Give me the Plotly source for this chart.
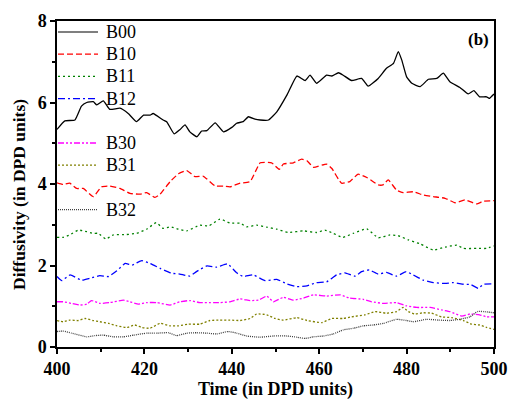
import plotly.graph_objects as go

# Diffusivity time series for each system (time in DPD units)
t_b00 = [400, 401.8, 404.1, 405.6, 406.8, 408.3, 409.1, 410.6, 412.1, 414.4, 416.3, 418.2, 419.8, 421.3,
         422.0, 424.3, 425.1, 426.8, 428.1, 429.3, 430.4, 432.0, 433.1, 434.3, 436.2, 438.1, 440.0, 441.1,
         442.6, 443.8, 445.3, 446.5, 448.4, 450.3, 452.6, 454.9, 456.8, 457.9, 459.4, 461.7, 462.9, 464.4,
         465.5, 467.4, 469.7, 471.2, 473.5, 475.4, 477.0, 478.1, 478.9, 480.0, 481.2, 483.1, 485.0, 486.9,
         488.4, 489.9, 492.2, 494.1, 495.4, 496.7, 498.3, 498.9, 500]
d_b00 = [5.34, 5.55, 5.57, 5.91, 6.00, 6.02, 5.94, 6.04, 5.83, 5.86, 5.73, 5.53, 5.69, 5.69,
         5.73, 5.57, 5.53, 5.23, 5.33, 5.45, 5.28, 5.16, 5.30, 5.31, 5.50, 5.28, 5.39, 5.49,
         5.53, 5.65, 5.59, 5.57, 5.57, 5.77, 6.18, 6.65, 6.54, 6.67, 6.47, 6.67, 6.65, 6.73,
         6.67, 6.54, 6.59, 6.40, 6.59, 6.84, 6.96, 7.25, 7.04, 6.63, 6.47, 6.39, 6.57, 6.59,
         6.72, 6.51, 6.37, 6.21, 6.29, 6.14, 6.14, 6.10, 6.21]

t_b10 = [400, 401.4, 402.9, 404.5, 406.0, 408.3, 410.2, 412.1, 414.4, 416.7, 419.0, 420.5, 422.4, 423.6,
         425.9, 427.8, 429.7, 431.6, 433.5, 436.2, 438.1, 439.6, 441.9, 444.2, 446.5, 449.1, 450.9, 451.8,
         454.1, 456.0, 457.2, 458.7, 461.7, 462.9, 465.1, 467.0, 468.9, 470.9, 473.5, 474.6, 475.8, 477.7,
         479.2, 481.5, 483.8, 486.1, 488.8, 491.1, 493.4, 496.0, 497.6, 500]
d_b10 = [4.03, 3.99, 4.02, 3.89, 3.89, 3.69, 3.93, 3.95, 3.89, 3.77, 3.75, 3.79, 3.67, 3.75,
         4.06, 4.25, 4.33, 4.18, 4.19, 3.95, 3.95, 3.93, 4.02, 4.06, 4.52, 4.52, 4.36, 4.49,
         4.52, 4.61, 4.57, 4.41, 4.49, 4.38, 4.02, 4.06, 4.24, 4.16, 3.98, 3.98, 4.10, 3.85,
         3.79, 3.81, 3.73, 3.69, 3.65, 3.54, 3.61, 3.51, 3.58, 3.59]

t_b11 = [400, 401.4, 402.9, 404.9, 406.8, 408.3, 409.4, 411.2, 412.9, 415.9, 418.2, 420.5, 422.7, 424.3,
         425.9, 427.8, 429.7, 432.7, 434.7, 437.3, 439.6, 441.9, 443.4, 445.7, 448.0, 450.3, 452.9, 456.4,
         459.4, 461.3, 463.2, 465.4, 467.8, 470.9, 473.5, 476.2, 478.1, 480.4, 483.1, 486.1, 488.8, 491.5,
         493.0, 496.0, 498.3, 500]
d_b11 = [2.69, 2.69, 2.75, 2.87, 2.83, 2.79, 2.79, 2.65, 2.75, 2.76, 2.79, 2.89, 3.05, 2.91,
         2.95, 2.89, 2.85, 2.99, 2.97, 3.14, 3.04, 3.04, 2.95, 2.99, 2.94, 2.89, 2.81, 2.85,
         2.81, 2.87, 2.79, 2.69, 2.79, 2.90, 2.68, 2.75, 2.73, 2.63, 2.53, 2.38, 2.45, 2.50,
         2.42, 2.42, 2.42, 2.48]

t_b12 = [400, 401.1, 403.0, 405.6, 407.6, 409.8, 411.8, 413.7, 415.6, 417.2, 419.4, 421.3, 423.6, 426.2,
         428.1, 430.4, 431.9, 434.3, 436.5, 439.0, 441.1, 442.6, 444.9, 447.6, 450.3, 452.6, 454.9, 457.2,
         459.4, 461.7, 464.0, 465.9, 468.2, 469.7, 471.5, 473.5, 475.4, 477.7, 479.9, 481.5, 483.8, 486.1,
         488.8, 490.7, 493.0, 494.7, 496.4, 497.6, 500]
d_b12 = [1.73, 1.63, 1.77, 1.64, 1.69, 1.75, 1.73, 1.87, 2.05, 2.01, 2.12, 2.05, 1.93, 1.81,
         1.79, 1.74, 1.85, 1.99, 1.96, 2.04, 1.82, 1.73, 1.77, 1.63, 1.66, 1.55, 1.48, 1.50,
         1.58, 1.60, 1.77, 1.82, 1.74, 1.85, 1.89, 1.79, 1.83, 1.74, 1.85, 1.77, 1.64, 1.58,
         1.56, 1.58, 1.54, 1.53, 1.44, 1.54, 1.55]

t_b30 = [400, 401.4, 403.3, 405.3, 406.8, 407.9, 409.8, 412.1, 415.2, 416.7, 418.6, 420.5, 422.8, 425.9,
         428.1, 430.4, 432.7, 435.8, 437.3, 439.6, 441.9, 444.2, 446.1, 448.0, 449.5, 451.8, 454.1, 456.4,
         458.7, 461.7, 464.8, 467.0, 470.1, 472.0, 474.7, 477.7, 480.0, 482.3, 485.4, 488.0, 489.9, 492.6,
         494.5, 496.7, 498.3, 500]
d_b30 = [1.11, 1.11, 1.07, 1.03, 1.05, 1.14, 1.07, 1.09, 1.15, 1.11, 1.05, 1.09, 1.09, 1.03,
         1.11, 1.14, 1.09, 1.09, 1.09, 1.11, 1.18, 1.14, 1.15, 1.25, 1.11, 1.22, 1.15, 1.20,
         1.28, 1.25, 1.28, 1.20, 1.17, 1.11, 1.07, 1.09, 1.01, 0.97, 0.97, 0.91, 0.87, 0.76,
         0.81, 0.79, 0.74, 0.74]

t_b31 = [400, 401.4, 402.9, 404.9, 406.4, 408.3, 409.8, 411.8, 413.7, 416.0, 417.8, 419.4, 421.3, 423.6,
         425.9, 427.8, 430.1, 432.7, 435.0, 437.3, 439.6, 441.9, 444.2, 445.7, 448.0, 449.9, 451.8, 454.9,
         457.2, 460.6, 462.9, 465.5, 467.4, 470.5, 472.8, 475.4, 477.7, 479.2, 480.4, 481.9, 483.8, 485.7,
         488.0, 490.3, 493.0, 494.9, 496.7, 498.3, 500]
d_b31 = [0.65, 0.62, 0.66, 0.65, 0.70, 0.65, 0.62, 0.58, 0.52, 0.48, 0.54, 0.48, 0.46, 0.58,
         0.52, 0.52, 0.56, 0.56, 0.65, 0.66, 0.66, 0.65, 0.70, 0.81, 0.79, 0.70, 0.66, 0.72,
         0.65, 0.60, 0.70, 0.70, 0.74, 0.79, 0.87, 0.83, 0.87, 0.97, 0.87, 0.81, 0.84, 0.83,
         0.74, 0.72, 0.65, 0.56, 0.54, 0.48, 0.43]

t_b32 = [400, 401.4, 403.3, 406.8, 408.7, 410.6, 412.9, 415.2, 417.5, 420.5, 422.8, 425.5, 427.4, 429.7,
         432.0, 434.3, 436.5, 439.2, 441.1, 443.4, 446.5, 449.5, 452.6, 454.9, 456.8, 458.7, 461.0, 463.2,
         465.5, 467.8, 470.1, 472.4, 474.7, 477.7, 480.0, 481.5, 484.6, 487.3, 489.9, 492.2, 494.5, 496.2,
         497.6, 500]
d_b32 = [0.38, 0.39, 0.34, 0.25, 0.28, 0.29, 0.25, 0.25, 0.29, 0.34, 0.34, 0.35, 0.28, 0.34,
         0.35, 0.34, 0.32, 0.38, 0.34, 0.27, 0.24, 0.27, 0.27, 0.24, 0.21, 0.25, 0.27, 0.32,
         0.42, 0.46, 0.52, 0.54, 0.58, 0.68, 0.65, 0.62, 0.68, 0.66, 0.65, 0.68, 0.74, 0.87,
         0.87, 0.84]

# name, times, values, colour, dash pattern, legend row
series = [
    ("B00", t_b00, d_b00, "#000000", "solid", 0),
    ("B10", t_b10, d_b10, "#FF0000", "6px,3px", 1),
    ("B11", t_b11, d_b11, "#008000", "2px,3px", 2),
    ("B12", t_b12, d_b12, "#0000FF", "7px,3px,2px,3px", 3),
    ("B30", t_b30, d_b30, "#FF00FF", "6px,2px,2px,2px,2px,2px", 5),
    ("B31", t_b31, d_b31, "#808000", "2px,2px", 6),
    ("B32", t_b32, d_b32, "#404040", "1px,1px", 8),
]

serif = "Liberation Serif, Times New Roman, serif"

# plot-area geometry in pixels (used for the hand-built legend and titles)
W, H = 509, 405
ML, MR, MT, MB = 57, 15, 21, 58
PW, PH = W - ML - MR, H - MT - MB
ROW0, ROWH = 11, 22.2          # legend first-row offset and row spacing (px from top of plot)


def px_x(p):
    return p / PW


def px_y(p):
    return 1 - p / PH


fig = go.Figure()
for name, t, d, color, dash, row in series:
    fig.add_trace(go.Scatter(
        x=t, y=d, name=name, mode="lines", showlegend=False,
        line=dict(color=color, width=1.3, dash=dash, shape="spline", smoothing=0.4),
    ))
    yrow = px_y(ROW0 + row * ROWH)
    lw = 1.6 if dash == "solid" else 1.3
    fig.add_shape(
        type="line", xref="paper", yref="paper",
        x0=px_x(1), x1=px_x(41), y0=yrow, y1=yrow,
        line=dict(color="#555555" if dash == "solid" else color, width=lw, dash=dash),
    )
    fig.add_annotation(
        x=px_x(47), y=yrow, xref="paper", yref="paper", xanchor="left", yanchor="middle",
        text=name, showarrow=False,
        font=dict(family=serif, size=18, color="black"),
    )

axis_common = dict(
    showline=True, linecolor="black", linewidth=1.5, mirror=True,
    ticks="outside", ticklen=5, tickwidth=1.5, tickcolor="black",
    showgrid=False, zeroline=False, automargin=False,
    tickfont=dict(family=serif, size=18, color="black", weight="bold"),
)

fig.update_xaxes(
    range=[400, 500], dtick=20, tick0=400,
    minor=dict(ticks="outside", ticklen=3, tickwidth=1.5, dtick=10, tickcolor="black"),
    title=dict(text="<b>Time (in DPD units)</b>", standoff=3,
               font=dict(family=serif, size=18, color="black")),
    **axis_common,
)
fig.update_yaxes(
    range=[0, 8], dtick=2, tick0=0,
    minor=dict(ticks="outside", ticklen=3, tickwidth=1.5, dtick=1, tickcolor="black"),
    **axis_common,
)

# y-axis title, set slightly below the axis centre
fig.add_annotation(
    x=px_x(-38), y=px_y(174), xref="paper", yref="paper", xanchor="center", yanchor="middle",
    text="<b>Diffusivity (in DPD units)</b>", textangle=-90, showarrow=False,
    font=dict(family=serif, size=17.5, color="black"),
)

fig.add_annotation(
    x=px_x(PW - 3), y=px_y(7), xref="paper", yref="paper", xanchor="right", yanchor="top",
    text="<b>(b)</b>", showarrow=False,
    font=dict(family=serif, size=17, color="black"),
)

fig.update_layout(
    width=W, height=H,
    margin=dict(l=ML, r=MR, t=MT, b=MB),
    paper_bgcolor="white", plot_bgcolor="white",
    showlegend=False,
)

fig.write_html("out.html")
